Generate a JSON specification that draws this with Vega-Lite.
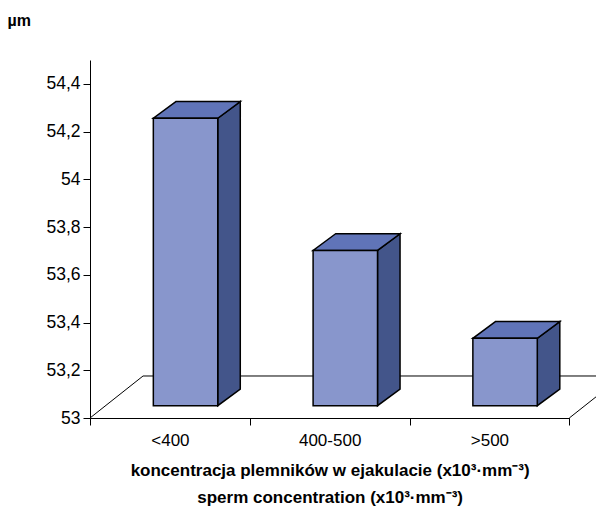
{
  "$schema": "https://vega.github.io/schema/vega-lite/v6.json",
  "width": 479.3,
  "height": 358,
  "autosize": {"type": "none"},
  "padding": {"left": 90, "top": 60, "right": 26.7, "bottom": 90},
  "background": "white",
  "view": {"stroke": null},
  "config": {"font": "Liberation Sans"},
  "datasets": {
    "bars": [
      {"category": "<400", "index": 0, "value": 54.256},
      {"category": "400-500", "index": 1, "value": 53.702},
      {"category": ">500", "index": 2, "value": 53.334}
    ],
    "floor": [
      {"x0": 0, "y0": 53, "x1": 0.332, "y1": 53.176},
      {"x0": 0.332, "y0": 53.176, "x1": 3.332, "y1": 53.176},
      {"x0": 3, "y0": 53, "x1": 3.332, "y1": 53.176}
    ]
  },
  "layer": [
    {
      "data": {"name": "floor"},
      "mark": {"type": "rule", "color": "black", "strokeWidth": 1},
      "encoding": {
        "x": {
          "field": "x0", "type": "quantitative",
          "scale": {"domain": [0, 3], "nice": false, "zero": false},
          "axis": {
            "title": ["koncentracja plemników w ejakulacie (x10³·mm⁻³)", "sperm concentration (x10³·mm⁻³)"],
            "values": [0, 0.5, 1, 1.5, 2, 2.5, 3],
            "grid": false,
            "domainColor": "black",
            "tickColor": "black",
            "tickSize": 7,
            "tickOpacity": {"condition": {"test": "datum.value % 1 == 0", "value": 1}, "value": 0},
            "labelExpr": "datum.value == 0.5 ? '<400' : datum.value == 1.5 ? '400-500' : datum.value == 2.5 ? '>500' : ''",
            "labelFont": "Liberation Sans",
            "labelFontSize": 17,
            "labelColor": "black",
            "labelPadding": 7,
            "labelFlush": false,
            "labelOverlap": false,
            "titleFont": "Liberation Sans",
            "titleFontSize": 17,
            "titleFontWeight": "bold",
            "titleColor": "black",
            "titleLineHeight": 27,
            "titlePadding": 14
          }
        },
        "x2": {"field": "x1"},
        "y": {
          "field": "y0", "type": "quantitative",
          "scale": {"domain": [53, 54.5], "nice": false, "zero": false},
          "axis": {
            "title": "µm",
            "titleAngle": 0,
            "titleX": -83,
            "titleY": -35,
            "titleAlign": "left",
            "titleBaseline": "alphabetic",
            "titleFont": "Liberation Sans",
            "titleFontSize": 16,
            "titleFontWeight": "bold",
            "titleColor": "black",
            "values": [53, 53.2, 53.4, 53.6, 53.8, 54, 54.2, 54.4],
            "grid": false,
            "domainColor": "black",
            "tickColor": "black",
            "tickSize": 7,
            "labelExpr": "replace(format(datum.value, '.1~f'), '.', ',')",
            "labelFont": "Liberation Sans",
            "labelFontSize": 17.5,
            "labelColor": "black",
            "labelPadding": 3
          }
        },
        "y2": {"field": "y1"}
      }
    },
    {
      "data": {"name": "bars"},
      "transform": [
        {"calculate": "[0, 1]", "as": "depth"},
        {"flatten": ["depth"]},
        {"calculate": "datum.index + 0.7996 + datum.depth * 0.141", "as": "xs"},
        {"calculate": "datum.value + datum.depth * 0.07", "as": "ytop"},
        {"calculate": "53.0515 + datum.depth * 0.07", "as": "ybot"}
      ],
      "mark": {"type": "area", "color": "#43558A", "stroke": "black", "strokeWidth": 1.5, "opacity": 1},
      "encoding": {
        "detail": {"field": "category"},
        "x": {"field": "xs", "type": "quantitative"},
        "y": {"field": "ytop", "type": "quantitative"},
        "y2": {"field": "ybot"}
      }
    },
    {
      "data": {"name": "bars"},
      "transform": [
        {"calculate": "[0, 1]", "as": "depth"},
        {"flatten": ["depth"]},
        {"calculate": "datum.index + 0.3964 + datum.depth * 0.141", "as": "xl"},
        {"calculate": "datum.xl + 0.4032", "as": "xr"},
        {"calculate": "datum.value + datum.depth * 0.07", "as": "yt"}
      ],
      "mark": {"type": "area", "orient": "horizontal", "color": "#6074B8", "stroke": "black", "strokeWidth": 1.5, "opacity": 1},
      "encoding": {
        "detail": {"field": "category"},
        "x": {"field": "xl", "type": "quantitative"},
        "x2": {"field": "xr"},
        "y": {"field": "yt", "type": "quantitative"}
      }
    },
    {
      "data": {"name": "bars"},
      "transform": [
        {"calculate": "datum.index + 0.3964", "as": "xl"},
        {"calculate": "datum.xl + 0.4032", "as": "xr"},
        {"calculate": "53.0515", "as": "yb"}
      ],
      "mark": {"type": "rect", "color": "#8896CC", "stroke": "black", "strokeWidth": 1.5},
      "encoding": {
        "x": {"field": "xl", "type": "quantitative"},
        "x2": {"field": "xr"},
        "y": {"field": "value", "type": "quantitative"},
        "y2": {"field": "yb"}
      }
    }
  ]
}
